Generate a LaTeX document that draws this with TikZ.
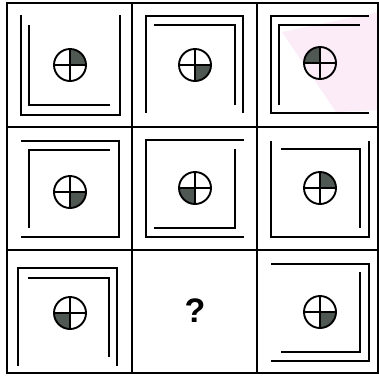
\documentclass[tikz,border=0pt]{standalone}
\usepackage{fontspec}
\setmainfont{Liberation Sans}
\definecolor{qshade}{RGB}{80,88,84}
\definecolor{pinktint}{RGB}{251,236,248}
\newcommand\dialmark[3]{%
  \begin{scope}
    \clip (#1,#2) circle (16pt);
    \fill[qshade] (#1,#2) rectangle ++(#3);
  \end{scope}
  \draw[dialline] (#1,#2) circle (16pt);
  \draw[dialline] ({#1-16},#2) -- ({#1+16},#2);
  \draw[dialline] (#1,{#2-16}) -- (#1,{#2+16});
}
\begin{document}
\begin{tikzpicture}[x=1pt,y=-1pt,line join=miter,
  gridline/.style={line width=2pt},
  sq/.style={line width=2.4pt},
  dialline/.style={line width=1.9pt}]
\useasboundingbox (0,0) rectangle (379,376);
\fill[white] (0,0) rectangle (379,376);
% faint pink tint in top-right cell
\fill[pinktint] (282,32) -- (379,12) -- (379,110) -- (336,112) -- cycle;
% grid
\draw[gridline] (7,3) rectangle (378,373);
\draw[gridline] (132,3) -- (132,373);
\draw[gridline] (257,3) -- (257,373);
\draw[gridline] (7,127) -- (378,127);
\draw[gridline] (7,250) -- (378,250);
% cell 1
\draw[sq] (21,15) -- (21,115) -- (120,115) -- (120,15);
\draw[sq] (29,25) -- (29,105) -- (110,105);
\dialmark{70}{65}{16,-16}
% cell 2
\draw[sq] (146,113) -- (146,16) -- (243,16) -- (243,113);
\draw[sq] (154,25) -- (235,25) -- (235,105);
\dialmark{195}{65}{16,16}
% cell 3
\draw[sq] (369,16) -- (271,16) -- (271,113) -- (369,113);
\draw[sq] (360,25) -- (279,25) -- (279,105);
\dialmark{320}{63}{-16,-16}
% cell 4
\draw[sq] (21,141) -- (119,141) -- (119,237) -- (21,237);
\draw[sq] (110,150) -- (29,150) -- (29,228);
\dialmark{70}{192}{16,16}
% cell 5
\draw[sq] (244,140) -- (146,140) -- (146,237) -- (244,237);
\draw[sq] (235,149) -- (235,228) -- (154,228);
\dialmark{195}{188}{-16,16}
% cell 6
\draw[sq] (271,141) -- (271,237) -- (369,237) -- (369,141);
\draw[sq] (281,149) -- (360,149) -- (360,228);
\dialmark{320}{188}{16,-16}
% cell 7
\draw[sq] (18,366) -- (18,268) -- (117,268) -- (117,366);
\draw[sq] (28,278) -- (109,278) -- (109,357);
\dialmark{70}{313}{-16,16}
% cell 8
\node[inner sep=0pt] (q) at (195,311) {\fontsize{34}{34}\selectfont\bfseries ?};
% cell 9
\draw[sq] (271,264) -- (369,264) -- (369,361) -- (271,361);
\draw[sq] (360,272) -- (360,352) -- (281,352);
\dialmark{320}{312}{16,16}
\end{tikzpicture}
\end{document}
